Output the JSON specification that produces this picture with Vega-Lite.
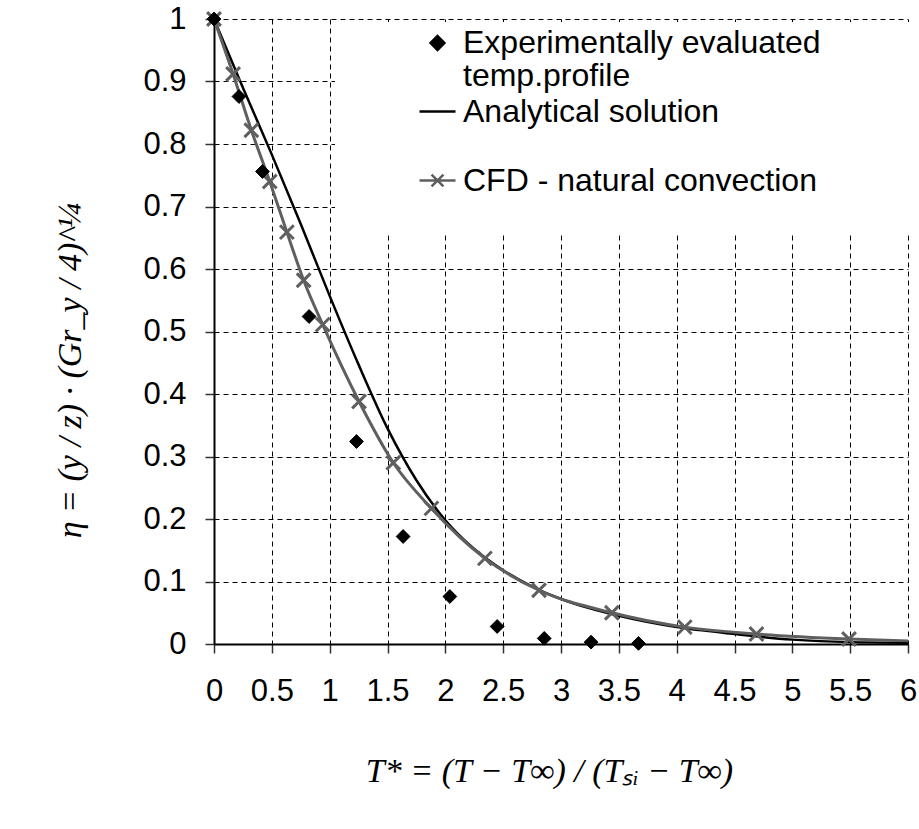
{
  "$schema": "https://vega.github.io/schema/vega-lite/v6.json",
  "width": 694,
  "height": 625,
  "autosize": {"type": "none"},
  "padding": {"left": 214, "top": 19, "right": 11, "bottom": 185},
  "background": "white",
  "config": {
    "view": {"stroke": null},
    "font": "Liberation Sans",
    "style": {"guide-label": {"lineHeight": 33}},
    "axis": {
      "grid": true,
      "gridColor": "black",
      "gridDash": [5, 4],
      "gridWidth": 1,
      "gridOpacity": 1,
      "domainColor": "black",
      "domainWidth": 2,
      "tickColor": "#333333",
      "tickWidth": 1.5,
      "tickSize": 9,
      "labelFont": "Liberation Sans",
      "labelFontSize": 31,
      "labelColor": "black",
      "titleFont": "Liberation Serif",
      "titleFontStyle": "italic",
      "titleFontWeight": "normal",
      "titleFontSize": 34,
      "titleColor": "black"
    },
    "legend": {
      "labelFont": "Liberation Sans",
      "labelFontSize": 32,
      "labelColor": "black",
      "labelLimit": 800,
      "symbolStrokeWidth": 2.5
    }
  },
  "datasets": {
    "analytical": [
      {"x": 0, "y": 1}, {"x": 0.25, "y": 0.89}, {"x": 0.5, "y": 0.783}, {"x": 0.75, "y": 0.672},
      {"x": 1.0, "y": 0.557}, {"x": 1.25, "y": 0.447}, {"x": 1.5, "y": 0.345}, {"x": 1.75, "y": 0.262},
      {"x": 2.0, "y": 0.198}, {"x": 2.25, "y": 0.152}, {"x": 2.5, "y": 0.118}, {"x": 2.75, "y": 0.092},
      {"x": 3.0, "y": 0.072}, {"x": 3.25, "y": 0.057}, {"x": 3.5, "y": 0.045}, {"x": 4.0, "y": 0.027},
      {"x": 4.5, "y": 0.016}, {"x": 5.0, "y": 0.007}, {"x": 5.5, "y": 0.003}, {"x": 6.0, "y": 0.002}
    ],
    "cfd": [
      {"x": 0, "y": 1}, {"x": 0.165, "y": 0.912}, {"x": 0.323, "y": 0.822}, {"x": 0.482, "y": 0.74},
      {"x": 0.63, "y": 0.659}, {"x": 0.775, "y": 0.582}, {"x": 0.94, "y": 0.511}, {"x": 1.254, "y": 0.388},
      {"x": 1.55, "y": 0.29}, {"x": 1.88, "y": 0.217}, {"x": 2.342, "y": 0.137}, {"x": 2.81, "y": 0.086},
      {"x": 3.44, "y": 0.05}, {"x": 4.07, "y": 0.027}, {"x": 4.69, "y": 0.016}, {"x": 5.49, "y": 0.008},
      {"x": 6.0, "y": 0.005}
    ],
    "experimental": [
      {"x": 0, "y": 1, "series": "Experimentally evaluated"}, {"x": 0.216, "y": 0.876, "series": "Experimentally evaluated"},
      {"x": 0.419, "y": 0.756, "series": "Experimentally evaluated"}, {"x": 0.822, "y": 0.524, "series": "Experimentally evaluated"},
      {"x": 1.232, "y": 0.324, "series": "Experimentally evaluated"}, {"x": 1.635, "y": 0.172, "series": "Experimentally evaluated"},
      {"x": 2.039, "y": 0.076, "series": "Experimentally evaluated"}, {"x": 2.448, "y": 0.028, "series": "Experimentally evaluated"},
      {"x": 2.855, "y": 0.009, "series": "Experimentally evaluated"}, {"x": 3.26, "y": 0.003, "series": "Experimentally evaluated"},
      {"x": 3.67, "y": 0.001, "series": "Experimentally evaluated"}
    ]
  },
  "encoding": {
    "x": {
      "field": "x", "type": "quantitative",
      "scale": {"domain": [0, 6], "nice": false, "zero": false},
      "axis": {
        "values": [0, 0.5, 1, 1.5, 2, 2.5, 3, 3.5, 4, 4.5, 5, 5.5, 6],
        "format": "~g",
        "labelPadding": 23,
        "labelFlush": false,
        "labelOverlap": false,
        "title": "T* = (T − T∞) / (Tₛᵢ − T∞)",
        "titlePadding": 48,
        "titleX": 335
      }
    },
    "y": {
      "field": "y", "type": "quantitative",
      "scale": {"domain": [0, 1], "nice": false, "zero": false},
      "axis": {
        "values": [0, 0.1, 0.2, 0.3, 0.4, 0.5, 0.6, 0.7, 0.8, 0.9, 1],
        "format": "~g",
        "labelPadding": 19,
        "labelFlush": false,
        "labelOverlap": false,
        "title": "η = (y / z) · (Gr_y / 4)^¼",
        "titlePadding": 55,
        "titleY": 351
      }
    }
  },
  "layer": [
    {
      "data": {"name": "analytical"},
      "mark": {"type": "line", "color": "black", "strokeWidth": 2.5, "interpolate": "monotone"}
    },
    {
      "data": {"name": "cfd"},
      "mark": {"type": "line", "color": "#5f5f5f", "strokeWidth": 3, "interpolate": "monotone"}
    },
    {
      "data": {"name": "cfd"},
      "transform": [{"filter": "datum.x < 6"}],
      "mark": {"type": "point", "shape": "M-1,-1L1,1M-1,1L1,-1", "filled": false, "stroke": "#5f5f5f", "strokeWidth": 3, "size": 190, "opacity": 1}
    },
    {
      "data": {"name": "experimental"},
      "mark": {"type": "point", "filled": true, "opacity": 1, "strokeWidth": 1},
      "encoding": {
        "shape": {
          "field": "series", "type": "nominal",
          "scale": {
            "domain": ["Experimentally evaluated", "Analytical solution", "CFD - natural convection"],
            "range": ["diamond", "stroke", "M-1,0H1M-0.33,-0.33L0.33,0.33M-0.33,0.33L0.33,-0.33"]
          },
          "legend": {
            "orient": "none",
            "legendX": 121,
            "legendY": 3,
            "title": " ",
            "titleOrient": "left",
            "titleFontSize": 10,
            "titlePadding": 78,
            "fillColor": "white",
            "padding": 5,
            "rowPadding": 0,
            "labelOffset": 6,
            "labelExpr": "datum.label == 'Experimentally evaluated' ? ['Experimentally evaluated\u00a0\u00a0\u00a0\u00a0\u00a0\u00a0\u00a0\u00a0\u00a0\u00a0\u200b', 'temp.profile'] : datum.label == 'Analytical solution' ? ['Analytical solution', ' '] : ['CFD - natural convection', ' ']"
          }
        },
        "fill": {
          "field": "series", "type": "nominal",
          "scale": {
            "domain": ["Experimentally evaluated", "Analytical solution", "CFD - natural convection"],
            "range": ["black", "transparent", "transparent"]
          }
        },
        "stroke": {
          "field": "series", "type": "nominal",
          "scale": {
            "domain": ["Experimentally evaluated", "Analytical solution", "CFD - natural convection"],
            "range": ["black", "black", "#5f5f5f"]
          }
        },
        "size": {
          "field": "series", "type": "nominal",
          "scale": {
            "type": "ordinal",
            "domain": ["Experimentally evaluated", "Analytical solution", "CFD - natural convection"],
            "range": [190, 1296, 1296]
          }
        }
      }
    }
  ]
}
